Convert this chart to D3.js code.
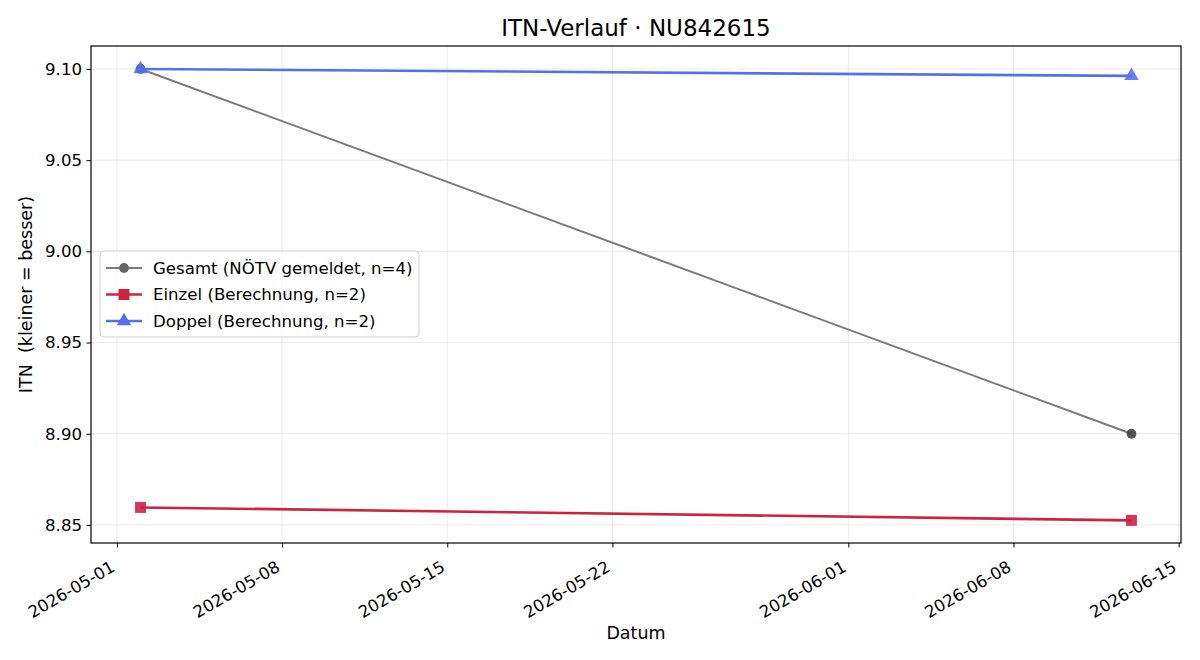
<!DOCTYPE html>
<html>
<head>
<meta charset="utf-8">
<script src="https://cdn.jsdelivr.net/npm/d3@7"></script>
<style>
  body { margin: 0; background: #fff; }
  text { font-family: "DejaVu Sans", sans-serif; white-space: pre; }
</style>
</head>
<body>
<div id="chart"></div>
<script>
let width = 1200,
    height = 660,
    margin = ({ top: 46, right: 19, bottom: 117, left: 91 });

// data
const dates = ["2026-05-02", "2026-06-13"];
const gesamt = [9.10, 8.90];
const einzel = [8.8596, 8.8525];
const doppel = [9.10, 9.0962];
const xTicks = ["2026-05-01", "2026-05-08", "2026-05-15", "2026-05-22", "2026-06-01", "2026-06-08", "2026-06-15"];
const yTicks = [8.85, 8.90, 8.95, 9.00, 9.05, 9.10];

const parse = d3.utcParse("%Y-%m-%d");

const series = [
  { name: "Gesamt (NÖTV gemeldet, n=4)", values: gesamt, line: "#7a7a7a", mark: "#444", legendMark: "#666", sw: 2, shape: d3.symbolCircle, size: 75 },
  { name: "Einzel (Berechnung, n=2)", values: einzel, line: "#cc2244", mark: "#cc2244", legendMark: "#cc2244", sw: 2.6, shape: d3.symbolSquare, size: 120 },
  { name: "Doppel (Berechnung, n=2)", values: doppel, line: "#5570ee", mark: "#5570ee", legendMark: "#5570ee", sw: 2.6, shape: d3.symbolTriangle, size: 90 }
];

const svg = d3.select("#chart")
  .append("svg")
  .attr("width", width)
  .attr("height", height);

const d0 = parse(dates[0]), d1 = parse(dates[1]);
const span = d1 - d0;
let x = d3.scaleUtc()
  .domain([new Date(+d0 - span * 0.05), new Date(+d1 + span * 0.05)])
  .range([margin.left, width - margin.right]);

let y = d3.scaleLinear()
  .domain([8.8401, 9.1126])
  .range([height - margin.bottom, margin.top]);

// grid
svg.append("g")
  .selectAll("line")
  .data(xTicks)
  .join("line")
  .attr("x1", d => x(parse(d))).attr("x2", d => x(parse(d)))
  .attr("y1", margin.top).attr("y2", height - margin.bottom)
  .attr("stroke", "#e5e5e5").attr("stroke-width", 0.8);

svg.append("g")
  .selectAll("line")
  .data(yTicks)
  .join("line")
  .attr("x1", margin.left).attr("x2", width - margin.right)
  .attr("y1", d => y(d)).attr("y2", d => y(d))
  .attr("stroke", "#e5e5e5").attr("stroke-width", 0.8);

// axes
const xAxis = svg.append("g")
  .attr("transform", `translate(0,${height - margin.bottom})`)
  .call(d3.axisBottom(x).tickValues(xTicks.map(parse)).tickSize(4.5).tickFormat(d3.utcFormat("%Y-%m-%d")));
xAxis.select(".domain").remove();
xAxis.selectAll("line").attr("stroke", "#000");
xAxis.selectAll("text")
  .attr("font-size", 16.6)
  .attr("fill", "#000")
  .attr("text-anchor", "end")
  .attr("y", 0).attr("dy", "0.3em")
  .attr("transform", "translate(-4,23) rotate(-30)");

const yAxis = svg.append("g")
  .attr("transform", `translate(${margin.left},0)`)
  .call(d3.axisLeft(y).tickValues(yTicks).tickSize(4.5).tickFormat(d3.format(".2f")));
yAxis.select(".domain").remove();
yAxis.selectAll("line").attr("stroke", "#000");
yAxis.selectAll("text").attr("font-size", 16.6).attr("fill", "#000").attr("x", -9);

svg.append("rect")
  .attr("x", margin.left).attr("y", margin.top)
  .attr("width", width - margin.left - margin.right)
  .attr("height", height - margin.top - margin.bottom)
  .attr("fill", "none").attr("stroke", "#000").attr("stroke-width", 1.2);

// lines and markers
const line = d3.line().x(d => x(d.date)).y(d => y(d.v));
for (const s of series) {
  const pts = dates.map((d, i) => ({ date: parse(d), v: s.values[i] }));
  svg.append("path")
    .datum(pts)
    .attr("d", line)
    .attr("fill", "none")
    .attr("stroke", s.line)
    .attr("stroke-width", s.sw);
  svg.append("g")
    .selectAll("path")
    .data(pts)
    .join("path")
    .attr("transform", d => `translate(${x(d.date)},${y(d.v)})`)
    .attr("d", d3.symbol().type(s.shape).size(s.size))
    .attr("fill", s.mark)
    .attr("fill-opacity", 0.9);
}

// legend
const lg = svg.append("g").attr("transform", "translate(100,251)");
lg.append("rect")
  .attr("width", 319).attr("height", 86).attr("rx", 4)
  .attr("fill", "#fff").attr("fill-opacity", 0.8)
  .attr("stroke", "#d0d0d0");
series.forEach((s, i) => {
  const yy = 17 + i * 26.5;
  lg.append("line").attr("x1", 6).attr("x2", 42).attr("y1", yy).attr("y2", yy)
    .attr("stroke", s.line).attr("stroke-width", s.sw);
  lg.append("path").attr("transform", `translate(24,${yy})`)
    .attr("d", d3.symbol().type(s.shape).size(s.size))
    .attr("fill", s.legendMark);
  lg.append("text").attr("x", 53).attr("y", yy).attr("dy", "0.35em")
    .attr("font-size", 16.6).text(s.name);
});

// titles
svg.append("text").attr("x", (margin.left + width - margin.right) / 2).attr("y", 36)
  .attr("text-anchor", "middle").attr("font-size", 23).text("ITN-Verlauf · NU842615");
svg.append("text").attr("x", (margin.left + width - margin.right) / 2).attr("y", 639)
  .attr("text-anchor", "middle").attr("font-size", 17.5).text("Datum");
svg.append("text")
  .attr("transform", `translate(32,${(margin.top + height - margin.bottom) / 2}) rotate(-90)`)
  .attr("text-anchor", "middle").attr("font-size", 17.5).text("ITN  (kleiner = besser)");
</script>
</body>
</html>
